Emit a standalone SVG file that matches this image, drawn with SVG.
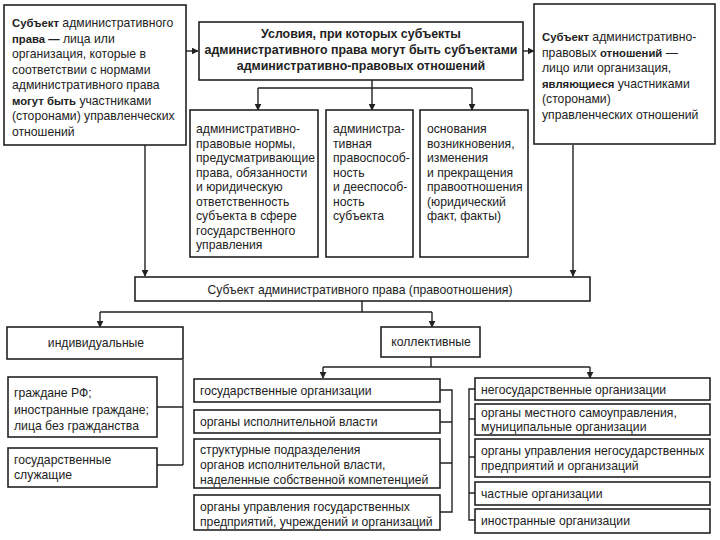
<svg xmlns="http://www.w3.org/2000/svg" width="720" height="540" viewBox="0 0 720 540">
<defs>
<marker id="ah" viewBox="0 0 10 10" refX="9" refY="5" markerWidth="7" markerHeight="7" orient="auto" markerUnits="userSpaceOnUse">
<path d="M0,0 L10,5 L0,10 z" fill="#222"/>
</marker>
<style>
.box{fill:#fff;stroke:#222;stroke-width:1.6}
.t{font-family:"Liberation Sans",Arial,sans-serif;font-size:12.2px;fill:#222}
.b{font-weight:bold;font-size:11.3px}
.hb{font-weight:bold;font-size:12.4px}
.c{text-anchor:middle}
.ln{fill:none;stroke:#222;stroke-width:1.4}
.ar{fill:none;stroke:#222;stroke-width:1.4;marker-end:url(#ah)}
</style>
</defs>
<rect width="720" height="540" fill="#fff"/>

<g id="connectors">
<path class="ar" d="M186,51 H198"/>
<path class="ar" d="M523,51 H534"/>
<path class="ln" d="M372,80 V88 M258,88 H472"/>
<path class="ar" d="M258,88 V110"/>
<path class="ar" d="M372,88 V110"/>
<path class="ar" d="M472,88 V110"/>
<path class="ar" d="M145,145 V276"/>
<path class="ar" d="M573,145 V276"/>
<path class="ln" d="M362,301 V312 M100,312 H432"/>
<path class="ar" d="M100,312 V327"/>
<path class="ar" d="M432,312 V327"/>
<path class="ln" d="M431,357 V367 M323,367 H590"/>
<path class="ar" d="M323,367 V378"/>
<path class="ar" d="M590,367 V378"/>
<path class="ln" d="M183,360 V465 M157,407 H183 M157,465 H183"/>
<path class="ln" d="M440,390 H452 V512 H440 M440,422 H452 M440,463 H452"/>
<path class="ln" d="M475,389 H469 V520 H475 M469,419 H475 M469,457 H475 M469,493 H475"/>
</g>

<g id="subject-admin-law">
<rect class="box" x="4" y="5" width="182" height="140"/>
<text class="t" x="12" y="27"><tspan class="b">Субъект</tspan> административного</text>
<text class="t" x="12" y="42.5"><tspan class="b">права —</tspan> лица или</text>
<text class="t" x="12" y="58">организация, которые в</text>
<text class="t" x="12" y="73.5">соответствии с нормами</text>
<text class="t" x="12" y="89">административного права</text>
<text class="t" x="12" y="104.5"><tspan class="b">могут быть</tspan> участниками</text>
<text class="t" x="12" y="120">(сторонами) управленческих</text>
<text class="t" x="12" y="135.5">отношений</text>
</g>

<g id="conditions">
<rect class="box" x="199" y="22" width="324" height="58" stroke-width="2.2"/>
<text class="t hb c" x="361" y="38">Условия, при которых субъекты</text>
<text class="t hb c" x="361" y="54">административного права могут быть субъектами</text>
<text class="t hb c" x="361" y="69.5">административно-правовых отношений</text>
</g>

<g id="subject-relations">
<rect class="box" x="534" y="4" width="181" height="140"/>
<text class="t" x="542" y="41"><tspan class="b">Субъект</tspan> административно-</text>
<text class="t" x="542" y="56.5">правовых <tspan class="b">отношений</tspan> —</text>
<text class="t" x="542" y="72">лицо или организация,</text>
<text class="t" x="542" y="87.5"><tspan class="b">являющиеся</tspan> участниками</text>
<text class="t" x="542" y="103">(сторонами)</text>
<text class="t" x="542" y="118.5">управленческих отношений</text>
</g>

<g id="norms">
<rect class="box" x="190" y="110" width="128" height="147"/>
<text class="t" x="196" y="133">административно-</text>
<text class="t" x="196" y="147.5">правовые нормы,</text>
<text class="t" x="196" y="162">предусматривающие</text>
<text class="t" x="196" y="176.5">права, обязанности</text>
<text class="t" x="196" y="191">и юридическую</text>
<text class="t" x="196" y="205.5">ответственность</text>
<text class="t" x="196" y="220">субъекта в сфере</text>
<text class="t" x="196" y="234.5">государственного</text>
<text class="t" x="196" y="249">управления</text>
</g>

<g id="capacity">
<rect class="box" x="326" y="110" width="87" height="147"/>
<text class="t" x="333" y="133">администра-</text>
<text class="t" x="333" y="147.5">тивная</text>
<text class="t" x="333" y="162">правоспособ-</text>
<text class="t" x="333" y="176.5">ность</text>
<text class="t" x="333" y="191">и дееспособ-</text>
<text class="t" x="333" y="205.5">ность</text>
<text class="t" x="333" y="220">субъекта</text>
</g>

<g id="grounds">
<rect class="box" x="420" y="110" width="108" height="147"/>
<text class="t" x="427" y="133">основания</text>
<text class="t" x="427" y="147.5">возникновения,</text>
<text class="t" x="427" y="162">изменения</text>
<text class="t" x="427" y="176.5">и прекращения</text>
<text class="t" x="427" y="191">правоотношения</text>
<text class="t" x="427" y="205.5">(юридический</text>
<text class="t" x="427" y="220">факт, факты)</text>
</g>

<g id="subject">
<rect class="box" x="135" y="277" width="455" height="24"/>
<text class="t c" x="360" y="293.5">Субъект административного права (правоотношения)</text>
</g>

<g id="individual">
<rect class="box" x="7" y="327" width="176" height="32"/>
<text class="t c" x="96" y="347">индивидуальные</text>
</g>

<g id="collective">
<rect class="box" x="381" y="327" width="99" height="30"/>
<text class="t c" x="431" y="346">коллективные</text>
</g>

<g id="citizens">
<rect class="box" x="8" y="377" width="149" height="60"/>
<text class="t" x="14" y="397">граждане РФ;</text>
<text class="t" x="14" y="413.5">иностранные граждане;</text>
<text class="t" x="14" y="430">лица без гражданства</text>
</g>

<g id="civil-servants">
<rect class="box" x="8" y="448" width="149" height="39"/>
<text class="t" x="14" y="464">государственные</text>
<text class="t" x="14" y="479">служащие</text>
</g>

<g id="state-orgs">
<rect class="box" x="194" y="379" width="246" height="23"/>
<text class="t" x="200" y="394.5">государственные организации</text>
</g>
<g id="exec-bodies">
<rect class="box" x="194" y="410" width="246" height="23"/>
<text class="t" x="200" y="425.5">органы исполнительной власти</text>
</g>
<g id="struct-units">
<rect class="box" x="194" y="439" width="246" height="49"/>
<text class="t" x="200" y="454">структурные подразделения</text>
<text class="t" x="200" y="469">органов исполнительной власти,</text>
<text class="t" x="200" y="484">наделенные собственной компетенцией</text>
</g>
<g id="state-enterprise-mgmt">
<rect class="box" x="194" y="495" width="246" height="35" stroke-width="2.2"/>
<text class="t" x="200" y="511">органы управления государственных</text>
<text class="t" x="200" y="526">предприятий, учреждений и организаций</text>
</g>

<g id="nonstate-orgs">
<rect class="box" x="475" y="378" width="235" height="22"/>
<text class="t" x="481" y="393.5">негосударственные организации</text>
</g>
<g id="local-gov">
<rect class="box" x="475" y="404" width="235" height="31"/>
<text class="t" x="481" y="417">органы местного самоуправления,</text>
<text class="t" x="481" y="431">муниципальные организации</text>
</g>
<g id="nonstate-mgmt">
<rect class="box" x="475" y="439" width="235" height="38"/>
<text class="t" x="481" y="455">органы управления негосударственных</text>
<text class="t" x="481" y="470">предприятий и организаций</text>
</g>
<g id="private-orgs">
<rect class="box" x="475" y="482" width="235" height="23"/>
<text class="t" x="481" y="497.5">частные организации</text>
</g>
<g id="foreign-orgs">
<rect class="box" x="475" y="509" width="235" height="24"/>
<text class="t" x="481" y="525">иностранные организации</text>
</g>
</svg>
